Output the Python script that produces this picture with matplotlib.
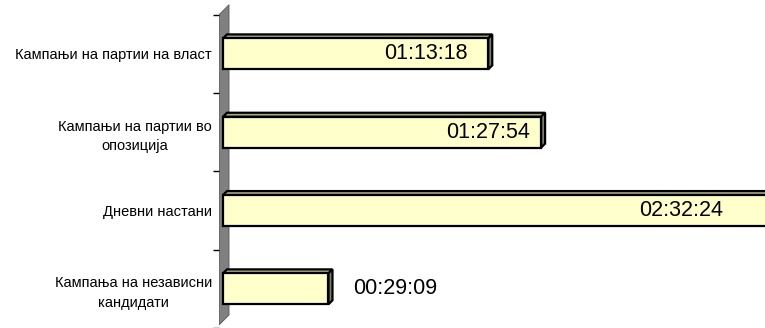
import matplotlib
matplotlib.use('Agg')
import matplotlib.pyplot as plt
from matplotlib.patches import Polygon

# durations (h, m, s)
categories = ['Кампањи на партии на власт',
              'Кампањи на партии во\nопозиција',
              'Дневни настани',
              'Кампања на независни\nкандидати']
durations = ['01:13:18', '01:27:54', '02:32:24', '00:29:09']


def to_sec(s):
    h, m, sec = [int(p) for p in s.split(':')]
    return h * 3600 + m * 60 + sec


values = [to_sec(d) for d in durations]

plt.rcParams['font.family'] = ['Liberation Sans', 'DejaVu Sans']

W, H, DPI = 765, 328, 100
fig = plt.figure(figsize=(W / DPI, H / DPI), dpi=DPI)
ax_left = 219
ax = fig.add_axes([ax_left / W, 0, (W - ax_left) / W, 1])

# horizontal scale: ~16.58 s per pixel, zero at the bar base
s_per_px = 16.58
x0 = -(223 - ax_left) * s_per_px
x1 = x0 + (W - ax_left) * s_per_px
ax.set_xlim(x0, x1)
ax.set_ylim((H - 54) / 78.5, -54 / 78.5)

sx = s_per_px                # data x per pixel
sy = 1 / 78.5                # data y per pixel
dx, dy = 4 * sx, 4 * sy      # 3d depth

front = '#FFFFCC'
top_c = '#A8A884'
side_c = '#808066'
lw = 1.6
h = 31 * sy

# back wall
wall = Polygon([(x0, -0.5), (x0 + 10 * sx, -0.5 - 10 * sy),
                (x0 + 10 * sx, 3.5 - 13 * sy), (x0, 3.5 - 3 * sy)],
               closed=True, facecolor='#808080', edgecolor='#555555',
               linewidth=0.6, zorder=1)
ax.add_patch(wall)

for i, v in enumerate(values):
    ax.barh(i, v, height=h, color=front, edgecolor='black', linewidth=lw, zorder=3)
    t = i - h / 2
    ax.add_patch(Polygon([(0, t), (v, t), (v + dx, t - dy), (dx, t - dy)],
                         closed=True, facecolor=top_c, edgecolor='black',
                         linewidth=lw, zorder=2))
    ax.add_patch(Polygon([(v, t), (v + dx, t - dy), (v + dx, t + h - dy), (v, t + h)],
                         closed=True, facecolor=side_c, edgecolor='black',
                         linewidth=lw, zorder=2))

# value labels
label_off = [-21, -11, -51, 25]
for i, (v, d, off) in enumerate(zip(values, durations, label_off)):
    ha = 'right' if off < 0 else 'left'
    ax.text(v + off * sx, i, d, ha=ha, va='center', fontsize=15.5, zorder=5)

ax.set_yticks([-0.5, 0.5, 1.5, 2.5, 3.5])
ax.set_yticklabels([])
ax.set_yticks(range(len(categories)), minor=True)
ax.set_yticklabels(categories, minor=True, fontsize=10.5,
                   multialignment='center', linespacing=1.5)
ax.tick_params(axis='y', which='major', length=4.3, width=1, direction='out')
ax.tick_params(axis='y', which='minor', length=0, pad=5)
ax.tick_params(axis='x', which='both', bottom=False, labelbottom=False)
for sp in ax.spines.values():
    sp.set_visible(False)
ax.patch.set_visible(False)

fig.savefig('out.png', dpi=DPI)
